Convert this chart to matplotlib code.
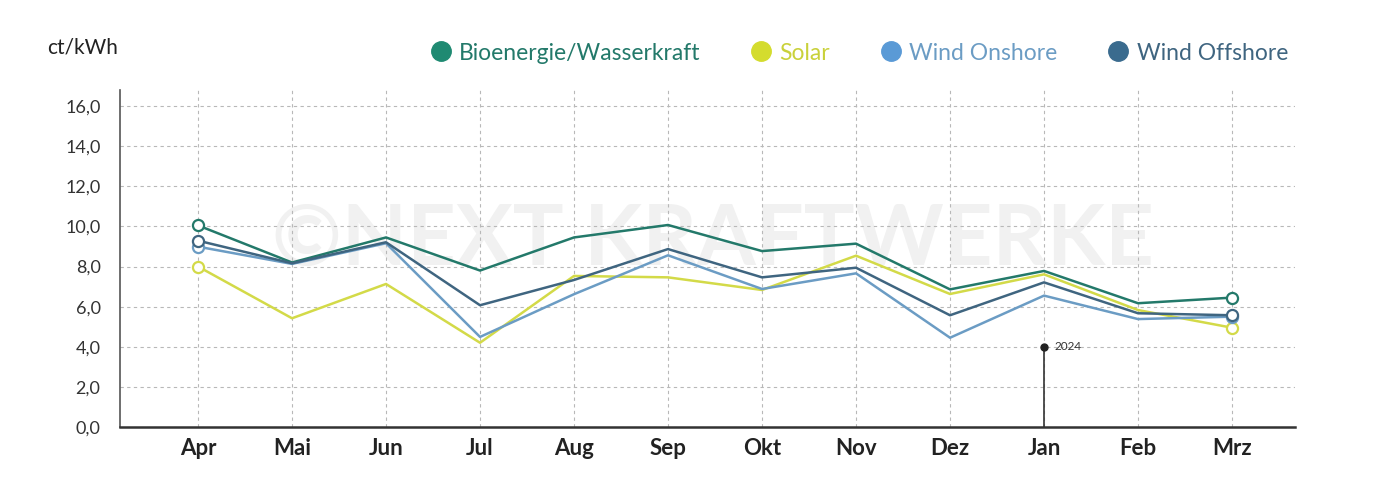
import matplotlib
matplotlib.use('Agg')
import matplotlib.pyplot as plt
from matplotlib.lines import Line2D
from matplotlib.ticker import FuncFormatter

plt.rcParams['font.family'] = ['Lato', 'DejaVu Sans']

# Daten (ct/kWh)
months = ["Apr", "Mai", "Jun", "Jul", "Aug", "Sep", "Okt", "Nov", "Dez", "Jan", "Feb", "Mrz"]
bio = [10.05, 8.2, 9.45, 7.8, 9.45, 10.07, 8.77, 9.14, 6.86, 7.78, 6.17, 6.45]
solar = [8.0, 5.42, 7.13, 4.2, 7.53, 7.46, 6.83, 8.54, 6.63, 7.61, 5.83, 4.95]
onshore = [8.99, 8.13, 9.16, 4.49, 6.62, 8.56, 6.88, 7.66, 4.45, 6.55, 5.38, 5.5]
offshore = [9.29, 8.16, 9.21, 6.07, 7.33, 8.87, 7.46, 7.94, 5.57, 7.21, 5.67, 5.57]
series_names = ["Bioenergie/Wasserkraft", "Solar", "Wind Onshore", "Wind Offshore"]
yticks = [0, 2, 4, 6, 8, 10, 12, 14, 16]
marker_month = "Jan"
marker_value = 4.0
marker_label = "2024"

line_colors = ["#23796a", "#d3da48", "#6b9cc4", "#3f6580"]
dot_colors = ["#1f8a72", "#d4dc2e", "#5a9ad6", "#3a6b8e"]

fig = plt.figure(figsize=(13.86, 4.9), dpi=100)
ax = fig.add_axes([120 / 1386, 1 - 427 / 490, (1295 - 120) / 1386, (427 - 90) / 490])

x = list(range(len(months)))
data = [bio, solar, onshore, offshore]
# Zeichenreihenfolge: Solar, Onshore, Offshore, Bio oben
for idx in [1, 2, 3, 0]:
    vals = data[idx]
    ax.plot(x, vals, color=line_colors[idx], lw=1.8, zorder=3 + idx * 0.1)
    ax.plot([x[0], x[-1]], [vals[0], vals[-1]], ls='none', marker='o', ms=8,
            mfc='white', mec=line_colors[idx], mew=1.6, zorder=4)

# 2024-Markierung
jx = months.index(marker_month)
ax.plot([jx, jx], [0, marker_value], color='#333333', lw=1.2, zorder=2)
ax.plot(jx, marker_value, 'o', color='#222222', ms=5, zorder=3)
ax.text(jx + 0.11, marker_value, marker_label, fontsize=8.5, color='#333333',
        va='center', ha='left')

# Wasserzeichen
ax.text(5.48, 9.3, "\u00a9NEXT KRAFTWERKE", fontsize=61, fontweight='bold',
        color='#f1f1f1', ha='center', va='center', zorder=0)

ax.set_xlim(-0.83, 11.67)
ax.set_ylim(0, 16.8)
ax.set_xticks(x)
ax.set_xticklabels(months, fontsize=16, fontweight='bold', color='#222222')
ax.set_yticks(yticks)
ax.yaxis.set_major_formatter(FuncFormatter(lambda v, p: f"{v:.1f}".replace('.', ',')))
ax.tick_params(axis='y', labelsize=13, colors='#333333', length=0, pad=14)
ax.tick_params(axis='x', length=0, pad=8)

ax.grid(True, ls=(0, (3, 3)), color='#b8b8b8', lw=0.8)
ax.set_axisbelow(True)
for s in ['top', 'right']:
    ax.spines[s].set_visible(False)
ax.spines['left'].set_color('#555555')
ax.spines['left'].set_linewidth(1.2)
ax.spines['bottom'].set_color('#333333')
ax.spines['bottom'].set_linewidth(1.8)

fig.text(47 / 1386, 1 - 48 / 490, "ct/kWh", fontsize=15, color='#222222', va='center', ha='left')

handles = [Line2D([], [], ls='none', marker='o', ms=14, color=c) for c in dot_colors]
leg = fig.legend(handles, series_names, loc='center right', bbox_to_anchor=(1288 / 1386, 1 - 53 / 490),
                 ncol=4, frameon=False, fontsize=16.5, handlelength=0.9, handletextpad=0.35,
                 columnspacing=2.2, borderaxespad=0, borderpad=0)
for t, c in zip(leg.get_texts(), line_colors):
    t.set_color(c)
leg.get_texts()[1].set_color('#c9d13a')

fig.savefig("out.png", dpi=100, facecolor='white')
